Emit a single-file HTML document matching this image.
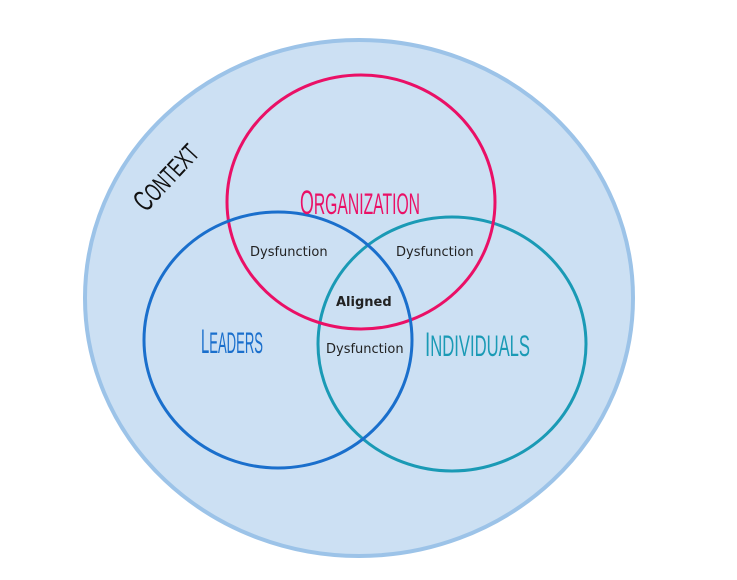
<!DOCTYPE html>
<html><head><meta charset="utf-8"><style>
html,body{margin:0;padding:0;background:#fff;width:737px;height:580px;overflow:hidden}
svg{display:block}
.h{font-family:"Liberation Sans Narrow","Liberation Sans",sans-serif;}
.d{font-family:"DejaVu Sans","Liberation Sans",sans-serif;font-size:13px;fill:#222}
</style></head><body>
<svg width="737" height="580" viewBox="0 0 737 580">
<ellipse cx="359" cy="298" rx="274" ry="258" fill="#cce0f3" stroke="#9cc3e8" stroke-width="4"/>
<ellipse cx="452" cy="344" rx="134" ry="127" fill="none" stroke="#1a9ab5" stroke-width="3"/>
<ellipse cx="361" cy="202" rx="134" ry="127" fill="none" stroke="#ea1066" stroke-width="3"/>
<ellipse cx="278" cy="340" rx="134" ry="128" fill="none" stroke="#1a6fcc" stroke-width="3"/>
<text class="h" x="300" y="214" font-size="30" fill="#ea1066" textLength="120" lengthAdjust="spacingAndGlyphs"><tspan font-size="34">O</tspan>RGANIZATION</text>
<text class="h" x="201" y="353" font-size="30" fill="#1a6fcc" textLength="62" lengthAdjust="spacingAndGlyphs"><tspan font-size="34">L</tspan>EADERS</text>
<text class="h" x="425" y="356" font-size="30" fill="#1a9ab5" textLength="105" lengthAdjust="spacingAndGlyphs"><tspan font-size="34">I</tspan>NDIVIDUALS</text>
<text class="h" transform="translate(146,213) rotate(-47)" font-size="26" fill="#111" textLength="80" lengthAdjust="spacingAndGlyphs"><tspan font-size="30">C</tspan>ONTEXT</text>
<text class="d" x="250" y="256">Dysfunction</text>
<text class="d" x="396" y="256">Dysfunction</text>
<text class="d" x="326" y="353">Dysfunction</text>
<text class="d" x="336" y="306" font-weight="bold" fill="#111">Aligned</text>
</svg>
</body></html>
